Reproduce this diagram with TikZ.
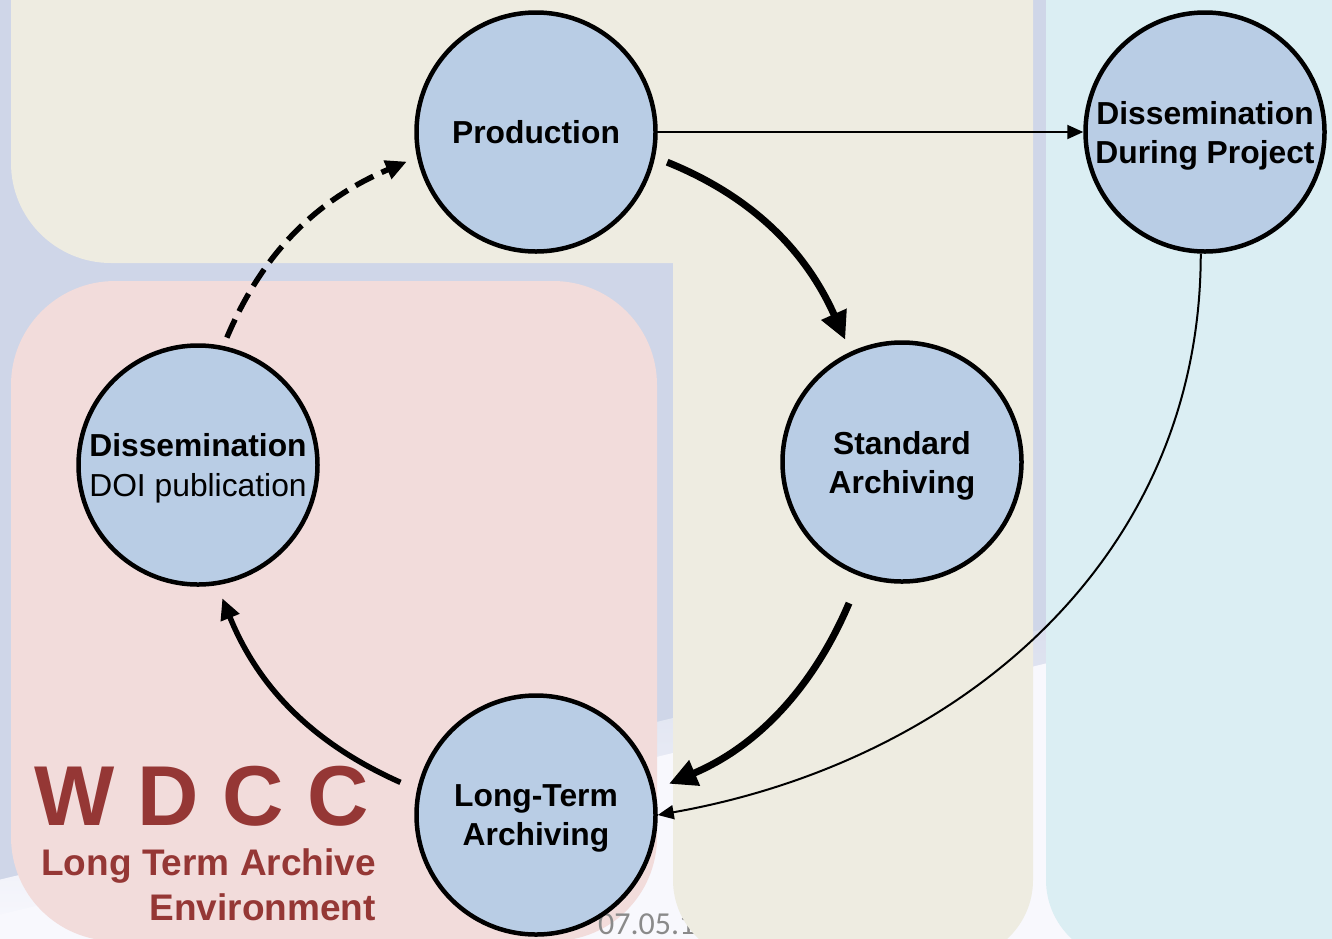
\documentclass[tikz,border=0pt]{standalone}
\usepackage{fontspec}
\setmainfont{Liberation Sans}
\newfontfamily\datefont{Carlito}
\usetikzlibrary{arrows.meta}
\definecolor{lav}{HTML}{CFD6E8}
\definecolor{glare}{HTML}{F8F8FD}
\definecolor{beigebg}{HTML}{EEECE1}
\definecolor{pinkbg}{HTML}{F2DCDB}
\definecolor{ltblue}{HTML}{DBEEF3}
\definecolor{nodefill}{HTML}{B9CDE5}
\definecolor{wdcc}{HTML}{953735}
\definecolor{dategray}{HTML}{8A8A8A}
\begin{document}
\begin{tikzpicture}[x=1pt,y=1pt,
  stage/.style={circle, draw=black, line width=4.5pt, fill=nodefill, minimum size=239pt,
    inner sep=0pt, align=center, text depth=0pt, font=\fontsize{31.8}{39}\selectfont\bfseries},
  bigarrow/.style={line width=7pt, -{Triangle[length=28pt,width=26pt]}},
  midarrow/.style={line width=5.5pt, -{Triangle[length=21pt,width=19pt]}},
  dasharrow/.style={line width=5.5pt, dash pattern=on 20pt off 9pt, -{Triangle[length=21pt,width=19pt]}},
  thinarrow/.style={line width=2pt, -{Triangle[length=16pt,width=14pt]}},
  brand/.style={text=wdcc, font=\bfseries, inner sep=0pt}]
\useasboundingbox (0,0) rectangle (1332,-938);
\clip (0,0) rectangle (1332,-938);
% background
\fill[lav] (0,0) rectangle (1332,-938);
\begin{scope}[rotate around={13.5:(0,-895)}]
  \shade[top color=lav, bottom color=glare] (-100,-880) rectangle (1600,-915);
  \fill[glare] (-100,-914) rectangle (1600,-1400);
\end{scope}
% pink region
\fill[pinkbg] (11,-837) -- (11,-385) arc[start angle=180,end angle=90,radius=104]
  -- (553,-281) arc[start angle=90,end angle=0,radius=104]
  -- (657,-837) arc[start angle=0,end angle=-90,radius=104]
  -- (115,-941) arc[start angle=270,end angle=180,radius=104] -- cycle;
% date
\node[anchor=base west, inner sep=0pt, text=dategray, font=\datefont\fontsize{32}{36}\selectfont] (date) at (598,-934) {07.05.1};
% beige region
\fill[beigebg] (11,10) -- (11,-163) arc[start angle=180,end angle=270,radius=100]
  -- (673,-263) -- (673,-880) arc[start angle=180,end angle=270,radius=80]
  -- (953,-960) arc[start angle=270,end angle=360,radius=80]
  -- (1033,10) -- cycle;
% light blue region
\fill[ltblue] (1046,10) -- (1046,-880) arc[start angle=180,end angle=270,radius=80]
  -- (1340,-960) -- (1340,10) -- cycle;
% WDCC branding
\node[brand, anchor=base west, font=\bfseries\fontsize{85}{90}\selectfont] (wdcc) at (34,-825) {W D C C};
\node[brand, anchor=base east, font=\bfseries\fontsize{37}{42}\selectfont] (lta) at (376,-875) {Long Term Archive};
\node[brand, anchor=base east, font=\bfseries\fontsize{37}{42}\selectfont] (env) at (376,-920) {Environment};
% stages
\node[stage] (P) at (536,-132) {Production};
\node[stage] (Q) at (1205,-132) {Dissemination\\During Project};
\node[stage] (S) at (902,-462) {Standard\\Archiving};
\node[stage] (L) at (536,-815) {Long-Term\\Archiving};
\node[stage, font=\fontsize{31.8}{40}\selectfont] (D) at (198,-465) {\textbf{Dissemination}\\DOI publication};
% cycle arrows
\draw[bigarrow, shorten <=13pt, shorten >=13pt] (P.-12) to[out=-22,in=114] (S.115);
\draw[bigarrow, shorten <=29pt, shorten >=15pt] (S.-110) to[out=-113,in=23] (L.12);
\draw[midarrow, shorten <=18pt, shorten >=14pt] (L.168) to[out=156,in=-68] (D.-81);
\draw[dasharrow, shorten <=9pt, shorten >=11pt] (D.78) to[out=67,in=203] (P.192);
% thin arrows
\draw[thinarrow] (P) -- (Q);
\draw[thinarrow] (Q.-92) to[out=-90,in=10] (L.east);
\end{tikzpicture}
\end{document}
